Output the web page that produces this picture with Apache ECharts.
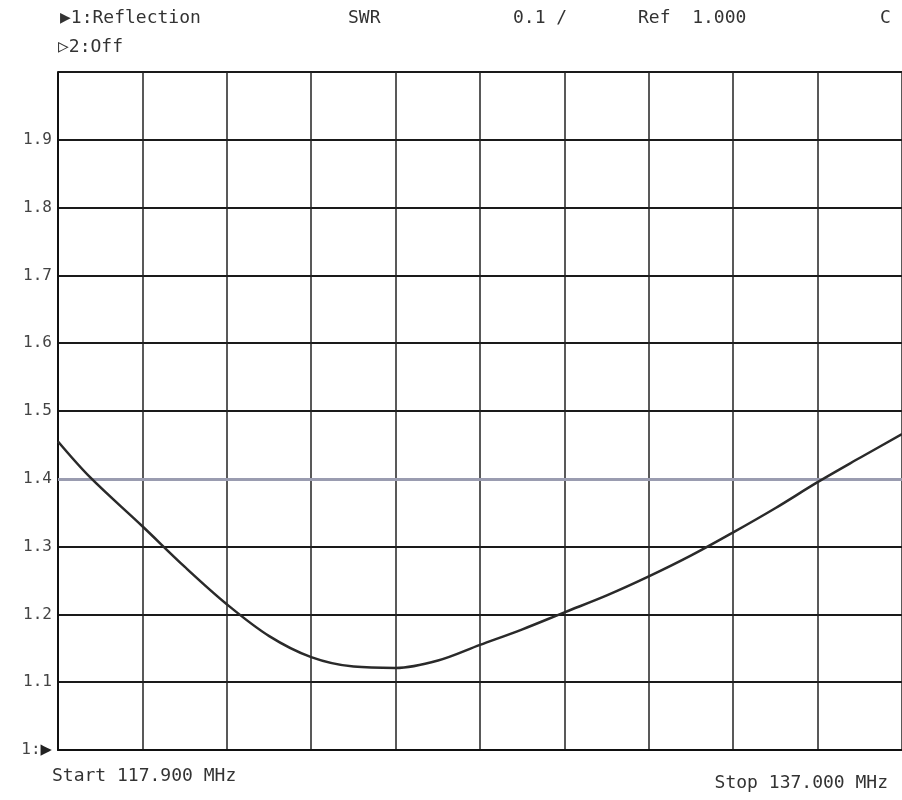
<!DOCTYPE html>
<html>
<head>
<meta charset="utf-8">
<script src="https://cdn.jsdelivr.net/npm/echarts@6/dist/echarts.min.js"></script>
<style>
  html, body { margin: 0; padding: 0; background: #fff; }
  #chart { width: 902px; height: 800px; }
</style>
</head>
<body>
<div id="chart"></div>
<script>
// sweep 117.9 .. 137.0 MHz, SWR
const freqMHz = [117.9, 118.63, 119.81, 120.77, 121.72, 122.68, 123.63, 124.59, 125.54,
  126.50, 127.45, 128.41, 129.36, 130.32, 131.27, 132.23, 133.18, 134.14, 135.09,
  136.05, 137.0];
const swr = [1.455, 1.402, 1.330, 1.270, 1.215, 1.168, 1.137, 1.123, 1.121,
  1.132, 1.155, 1.178, 1.203, 1.228, 1.256, 1.287, 1.321, 1.357, 1.395,
  1.431, 1.466];
const limitLine = 1.4;

const mono = '"DejaVu Sans Mono", "Liberation Mono", monospace';
const ink = '#333';

const chart = echarts.init(document.getElementById('chart'));

const option = {
  animation: false,
  backgroundColor: '#fff',
  grid: { left: 58, right: 0, top: 72, bottom: 50 },
  xAxis: [
    {
      // 10 divisions of the analyzer screen
      type: 'value', min: 0, max: 10, interval: 1,
      axisLine: { show: true, lineStyle: { color: '#111', width: 2 } },
      axisTick: { show: false },
      axisLabel: { show: false },
      splitLine: { show: true, lineStyle: { color: '#222', width: 1.5 } },
    },
    {
      type: 'value', min: 117.9, max: 137.0, show: false,
    },
  ],
  yAxis: {
    type: 'value', min: 1, max: 2, interval: 0.1,
    axisLine: { show: true, lineStyle: { color: '#111', width: 2 } },
    axisTick: { show: false },
    axisLabel: {
      margin: 6,
      color: '#444',
      fontFamily: mono,
      fontSize: 16,
      formatter: v => {
        if (v > 1.95) return '';
        if (v < 1.05) return '1:{m|▶}';
        return v.toFixed(1);
      },
      rich: { m: { fontFamily: mono, fontSize: 19, color: '#222' } },
    },
    splitLine: { show: true, lineStyle: { color: '#1a1a1a', width: 2 } },
  },
  series: [{
    type: 'line',
    xAxisIndex: 1,
    data: freqMHz.map((f, i) => [f, swr[i]]),
    smooth: 0.35,
    symbol: 'none',
    lineStyle: { color: '#2a2a2a', width: 2.5 },
    markLine: {
      silent: true,
      symbol: 'none',
      label: { show: false },
      lineStyle: { color: '#9a9cb0', width: 3, type: 'solid' },
      data: [{ yAxis: limitLine }],
    },
    z: 5,
  }],
  graphic: [
    { type: 'text', left: 60, top: 9, style: { text: '▶1:Reflection', font: '18px ' + mono, fill: ink } },
    { type: 'text', left: 348, top: 9, style: { text: 'SWR', font: '18px ' + mono, fill: ink } },
    { type: 'text', left: 513, top: 9, style: { text: '0.1 /', font: '18px ' + mono, fill: ink } },
    { type: 'text', left: 638, top: 9, style: { text: 'Ref  1.000', font: '18px ' + mono, fill: ink } },
    { type: 'text', left: 880, top: 9, style: { text: 'C', font: '18px ' + mono, fill: ink } },
    { type: 'text', left: 58, top: 38, style: { text: '▷2:Off', font: '18px ' + mono, fill: ink } },
    { type: 'text', left: 52, top: 767, style: { text: 'Start 117.900 MHz', font: '18px ' + mono, fill: ink } },
    { type: 'text', right: 14, top: 774, style: { text: 'Stop 137.000 MHz', font: '18px ' + mono, fill: ink } },
  ],
};

chart.setOption(option);
</script>
</body>
</html>
